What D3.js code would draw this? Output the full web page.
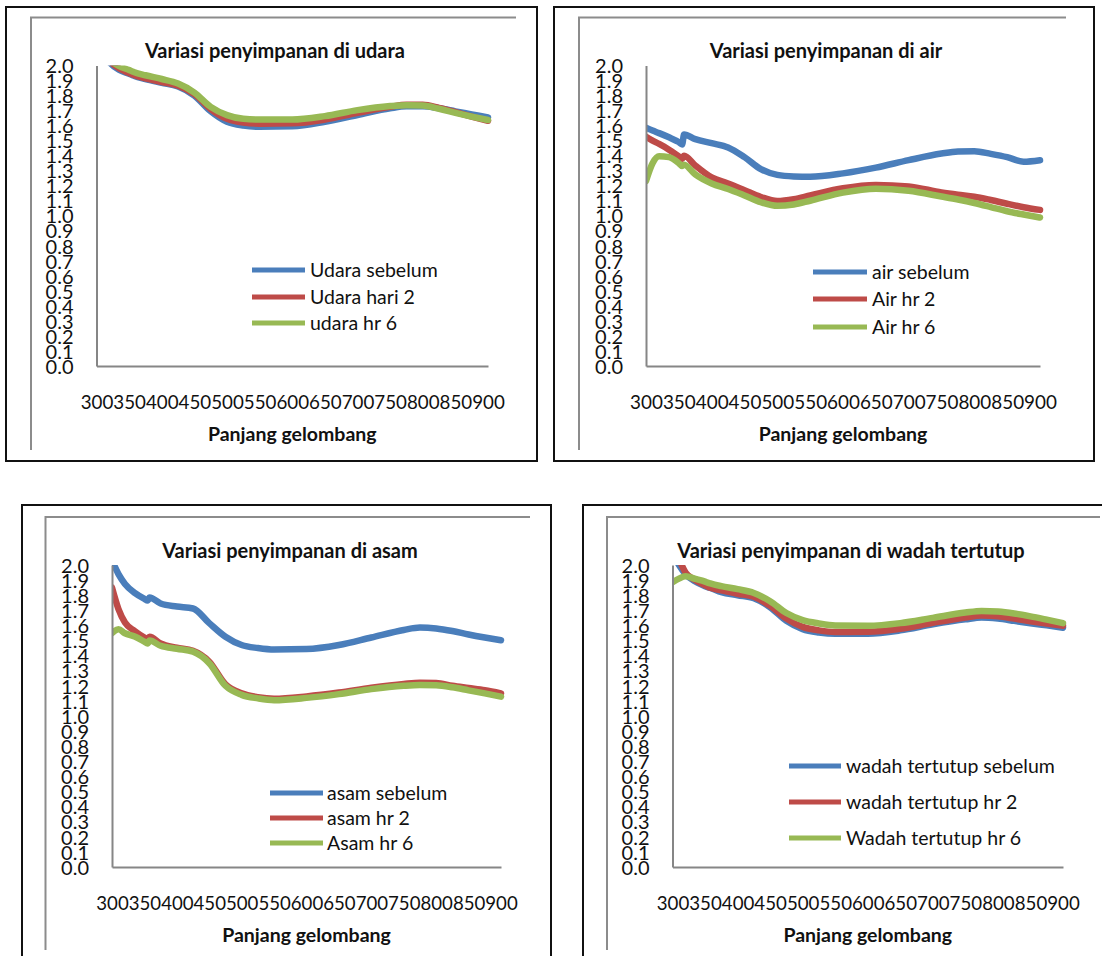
<!DOCTYPE html>
<html>
<head>
<meta charset="utf-8">
<script src="https://cdn.jsdelivr.net/npm/d3@7"></script>
<style>
body { margin: 0; background: #fff; }
svg { display: block; }
</style>
</head>
<body>
<div id="wrapper"></div>
<script>
// wavelength grid (nm), shared by all series
const wavelength = [300, 310, 320, 335, 350, 355, 358, 375, 400, 425, 450, 475, 500, 525, 550, 600, 650, 700, 750, 775, 800, 825, 850, 875, 900]
const xTicks = [300, 350, 400, 450, 500, 550, 600, 650, 700, 750, 800, 850, 900]
const yTicks = d3.range(0, 21).map(i => i / 10)

const titles = [
    "Variasi penyimpanan di udara",
    "Variasi penyimpanan di air",
    "Variasi penyimpanan di asam",
    "Variasi penyimpanan di wadah tertutup"
]
const legendNames = [
    ["Udara sebelum", "Udara hari 2", "udara hr 6"],
    ["air sebelum", "Air hr 2", "Air hr 6"],
    ["asam sebelum", "asam hr 2", "Asam hr 6"],
    ["wadah tertutup sebelum", "wadah tertutup hr 2", "Wadah tertutup hr 6"]
]
const xTitle = "Panjang gelombang"
const colors = ["#4a7ebb", "#be4b48", "#98b954"]

// udara
const udaraSebelum = [2.15, 2.08, 2.02, 1.97, 1.945, 1.935, 1.93, 1.91, 1.885, 1.86, 1.80, 1.695, 1.625, 1.60, 1.592, 1.595, 1.625, 1.67, 1.715, 1.728, 1.728, 1.715, 1.695, 1.675, 1.655]
const udaraHari2 = [2.15, 2.08, 2.03, 1.98, 1.95, 1.94, 1.935, 1.915, 1.89, 1.865, 1.81, 1.71, 1.645, 1.62, 1.613, 1.615, 1.64, 1.685, 1.725, 1.738, 1.738, 1.718, 1.69, 1.66, 1.632]
const udaraHr6 = [2.16, 2.09, 2.04, 1.995, 1.97, 1.96, 1.955, 1.935, 1.91, 1.88, 1.82, 1.725, 1.67, 1.645, 1.64, 1.64, 1.663, 1.703, 1.73, 1.736, 1.733, 1.712, 1.685, 1.66, 1.637]

// air
const airSebelum = [1.586, 1.567, 1.55, 1.522, 1.49, 1.475, 1.54, 1.51, 1.483, 1.455, 1.39, 1.31, 1.272, 1.262, 1.26, 1.282, 1.32, 1.37, 1.414, 1.428, 1.43, 1.412, 1.39, 1.36, 1.37]
const airHr2 = [1.526, 1.50, 1.478, 1.44, 1.395, 1.38, 1.40, 1.335, 1.255, 1.215, 1.17, 1.125, 1.098, 1.11, 1.135, 1.183, 1.205, 1.195, 1.155, 1.14, 1.127, 1.105, 1.08, 1.057, 1.039]
const airHr6 = [1.231, 1.35, 1.396, 1.39, 1.35, 1.331, 1.34, 1.275, 1.215, 1.178, 1.135, 1.09, 1.066, 1.075, 1.10, 1.154, 1.18, 1.166, 1.128, 1.108, 1.085, 1.058, 1.03, 1.008, 0.988]

// asam
const asamSebelum = [2.03, 1.94, 1.875, 1.815, 1.776, 1.765, 1.785, 1.745, 1.725, 1.712, 1.615, 1.525, 1.47, 1.45, 1.44, 1.443, 1.47, 1.52, 1.57, 1.586, 1.58, 1.563, 1.54, 1.52, 1.502]
const asamHr2 = [1.85, 1.708, 1.619, 1.563, 1.52, 1.508, 1.525, 1.48, 1.452, 1.432, 1.36, 1.21, 1.15, 1.125, 1.115, 1.13, 1.155, 1.187, 1.212, 1.22, 1.218, 1.20, 1.185, 1.17, 1.15]
const asamHr6 = [1.55, 1.575, 1.548, 1.526, 1.492, 1.48, 1.50, 1.465, 1.445, 1.426, 1.35, 1.20, 1.14, 1.117, 1.105, 1.12, 1.145, 1.178, 1.20, 1.205, 1.203, 1.19, 1.17, 1.15, 1.128]

// wadah tertutup
const wadahSebelum = [2.08, 2.0, 1.94, 1.89, 1.86, 1.852, 1.848, 1.82, 1.80, 1.78, 1.72, 1.63, 1.575, 1.553, 1.544, 1.545, 1.567, 1.607, 1.64, 1.652, 1.645, 1.63, 1.614, 1.60, 1.585]
const wadahHr2 = [2.15, 2.04, 1.95, 1.90, 1.865, 1.855, 1.85, 1.832, 1.81, 1.79, 1.73, 1.645, 1.59, 1.567, 1.556, 1.558, 1.578, 1.617, 1.652, 1.665, 1.66, 1.645, 1.628, 1.612, 1.598]
const wadahHr6 = [1.885, 1.91, 1.925, 1.908, 1.89, 1.882, 1.878, 1.86, 1.84, 1.815, 1.76, 1.682, 1.635, 1.613, 1.60, 1.598, 1.615, 1.65, 1.685, 1.696, 1.692, 1.679, 1.66, 1.638, 1.615]

const seriesSets = [
    [udaraSebelum, udaraHari2, udaraHr6],
    [airSebelum, airHr2, airHr6],
    [asamSebelum, asamHr2, asamHr6],
    [wadahSebelum, wadahHr2, wadahHr6]
]

// page layout of the four pasted charts
const layouts = [
    { frame: [6, 7, 537, 461], inner: [31, 17.5, 516, 450], plot: [96.5, 65.5, 488, 366], titleX: 275, titleY: 58, legend: [252, 305, 310, [270, 297, 323]] },
    { frame: [554, 7, 1094, 461], inner: [579, 17.5, 1066, 450], plot: [646, 65.5, 1040, 366], titleX: 826, titleY: 58, legend: [813, 867, 872, [272, 299, 327]] },
    { frame: [22, 505, 551, 990], inner: [45.5, 517, 530, 950], plot: [112, 565, 501, 867], titleX: 290, titleY: 558, legend: [270, 323, 327, [793, 818, 843]] },
    { frame: [583, 505, 1130, 990], inner: [607, 517, 1100, 950], plot: [672.5, 565, 1063, 867], titleX: 851, titleY: 558, legend: [789, 841, 846, [766, 802, 838]] }
]

const W = 1102, H = 956
const svg = d3.select("#wrapper").append("svg").attr("width", W).attr("height", H)
const font = "Lato, 'Open Sans', sans-serif"

layouts.forEach((L, i) => {
    const g = svg.append("g")
    const [fx0, fy0, fx1, fy1] = L.frame
    g.append("rect")
        .attr("x", fx0).attr("y", fy0).attr("width", fx1 - fx0).attr("height", fy1 - fy0)
        .attr("fill", "none").attr("stroke", "#111").attr("stroke-width", 2)

    const [ix0, iy0, ix1, iy1] = L.inner
    g.append("path")
        .attr("d", `M${ix0},${iy1}V${iy0}H${ix1}`)
        .attr("fill", "none").attr("stroke", "#8c8c8c").attr("stroke-width", 2)

    const [left, top, right, bottom] = L.plot
    const x = d3.scaleLinear().domain([300, 900]).range([left, right])
    const y = d3.scaleLinear().domain([0, 2]).range([bottom, top])

    const clipId = "clip" + i
    g.append("clipPath").attr("id", clipId)
        .append("rect").attr("x", left).attr("y", top).attr("width", right - left + 4).attr("height", bottom - top)

    const line = d3.line()
        .x((d, k) => x(wavelength[k]))
        .y(d => y(d))
        .curve(d3.curveMonotoneX)

    g.append("g").attr("clip-path", `url(#${clipId})`)
        .selectAll("path").data(seriesSets[i]).join("path")
        .attr("d", d => line(d))
        .attr("fill", "none")
        .attr("stroke", (d, k) => colors[k])
        .attr("stroke-width", 6.5)
        .attr("stroke-linejoin", "round")
        .attr("stroke-linecap", "round")

    // y axis
    const yAxis = g.append("g").attr("transform", `translate(${left},0)`)
        .call(d3.axisLeft(y).tickValues(yTicks).tickFormat(d3.format(".1f")).tickSize(0).tickPadding(23))
    yAxis.select(".domain").attr("stroke", "#868686").attr("stroke-width", 2)
    yAxis.selectAll("text").attr("font-family", font).attr("font-size", 20).attr("fill", "#111").attr("dy", "0.36em")

    // x axis
    const step = x(350) - x(300)
    const xAxis = g.append("g").attr("transform", `translate(0,${bottom})`)
        .call(d3.axisBottom(x).tickValues(xTicks).tickFormat(d3.format("d")).tickSize(0).tickPadding(29))
    xAxis.select(".domain").attr("stroke", "#868686").attr("stroke-width", 2)
    xAxis.selectAll("text").attr("font-family", font).attr("font-size", 20).attr("fill", "#111")
        .attr("textLength", step).attr("lengthAdjust", "spacingAndGlyphs")

    g.append("text")
        .attr("x", (left + right) / 2).attr("y", bottom + 75)
        .attr("text-anchor", "middle")
        .attr("font-family", font).attr("font-weight", "bold").attr("font-size", 19.5)
        .attr("fill", "#111")
        .text(xTitle)

    g.append("text")
        .attr("x", L.titleX).attr("y", L.titleY)
        .attr("text-anchor", "middle")
        .attr("font-family", font).attr("font-weight", "bold").attr("font-size", 20)
        .attr("fill", "#111")
        .text(titles[i])

    // legend
    const [lx0, lx1, tx, rows] = L.legend
    const leg = g.selectAll(".leg").data(legendNames[i]).join("g").attr("class", "leg")
    leg.append("line")
        .attr("x1", lx0).attr("x2", lx1)
        .attr("y1", (d, k) => rows[k]).attr("y2", (d, k) => rows[k])
        .attr("stroke", (d, k) => colors[k]).attr("stroke-width", 5)
    leg.append("text")
        .attr("x", tx).attr("y", (d, k) => rows[k]).attr("dy", "0.35em")
        .attr("font-family", font).attr("font-size", 19.5).attr("fill", "#111")
        .text(d => d)
})
</script>
</body>
</html>
